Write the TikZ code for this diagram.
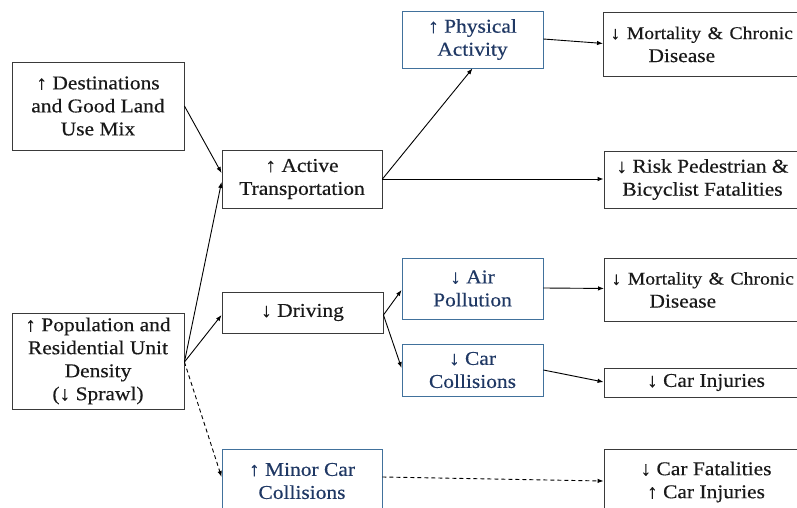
\documentclass[tikz,border=0pt]{standalone}
\usepackage{fontspec}
\setmainfont[FakeStretch=1.1,FakeBold=0.4]{Liberation Serif}
\usetikzlibrary{arrows.meta,calc}
\definecolor{bluebord}{HTML}{41719C}
\definecolor{bluetext}{HTML}{1F3864}
\definecolor{blackbord}{HTML}{3A3A3A}
\tikzset{
  box/.style={draw=blackbord, line width=0.9pt, rectangle, inner sep=0pt, align=center,
    font=\fontsize{19.5}{23}\selectfont, text=black!90},
  bbox/.style={box, draw=bluebord, text=bluetext},
  lbox/.style={box, anchor=north west, align=left, inner xsep=7pt},
  conn/.style={line width=0.9pt, -{Latex[length=6pt,width=4.5pt]}},
  dconn/.style={conn, dashed, dash pattern=on 4pt off 3pt},
}
\newcommand{\mortline}{{\fontsize{17.9}{23}\selectfont ↓ Mortality \& Chronic}}
\begin{document}
\begin{tikzpicture}[x=1pt,y=-1pt]
\useasboundingbox (0,0) rectangle (797,508);
\fill[white] (0,0) rectangle (797,508);
\clip (0,0) rectangle (797,508);

% left column
\node[box, minimum width=172pt, minimum height=88pt] (dest) at (98,106)
  {↑ Destinations\\and Good Land\\Use Mix};
\node[box, minimum width=172pt, minimum height=96pt] (pop) at (98,361)
  {↑ Population and\\Residential Unit\\Density\\(↓ Sprawl)};

% second column
\node[box, minimum width=160pt, minimum height=58pt] (active) at (302,179)
  {↑ Active\\Transportation};
\node[box, minimum width=161pt, minimum height=41pt] (driving) at (302.5,312.5)
  {↓ Driving};
\node[bbox, minimum width=160pt, minimum height=64pt] (minor) at (302,481)
  {↑ Minor Car\\Collisions};

% third column
\node[bbox, minimum width=141pt, minimum height=57pt] (phys) at (472.5,39.5)
  {↑ Physical\\Activity};
\node[bbox, minimum width=141pt, minimum height=61pt] (air) at (472.5,288.5)
  {↓ Air\\Pollution};
\node[bbox, minimum width=141pt, minimum height=52pt] (coll) at (472.5,370)
  {↓ Car\\Collisions};

% right column
\node[lbox, text width=200pt, minimum height=64pt] (mort1) at (603,12)
  {\mortline\\\hspace*{38pt}Disease};
\node[box, minimum width=197pt, minimum height=57pt] (risk) at (702.5,179.5)
  {↓ Risk Pedestrian \&\\Bicyclist Fatalities};
\node[lbox, text width=200pt, minimum height=63pt] (mort2) at (604,258)
  {\mortline\\\hspace*{38pt}Disease};
\node[box, minimum width=204pt, minimum height=29pt] (inj) at (706,382.5)
  {↓ Car Injuries};
\node[box, minimum width=204pt, minimum height=66pt] (fat) at (706,482)
  {↓ Car Fatalities\\↑ Car Injuries};

% connectors
\draw[conn] (dest.east) -- ($(active.west)+(0,-6)$);
\draw[conn] ($(pop.east)+(0,1)$) -- ($(active.west)+(0,3)$);
\draw[conn] ($(pop.east)+(0,1)$) -- ($(driving.west)+(0,2.5)$);
\draw[dconn] ($(pop.east)+(0,1)$) -- ($(minor.west)+(0,-4)$);
\draw[conn] (active.east) -- (phys.south);
\draw[conn] (active.east) -- (active.east -| risk.west);
\draw[conn] ($(phys.east)+(0,-0.5)$) -- ($(mort1.west)+(0,-1)$);
\draw[conn] ($(driving.east)+(0,2.5)$) -- ($(air.west)+(0,1.5)$);
\draw[conn] ($(driving.east)+(0,2.5)$) -- ($(coll.west)+(0,-2)$);
\draw[conn] ($(air.east)+(0,-0.5)$) -- ($(mort2.west)+(0,-1.5)$);
\draw[conn] (coll.east) -- ($(inj.west)+(0,-0.5)$);
\draw[dconn] ($(minor.east)+(0,-4)$) -- ($(fat.west)+(0,-1)$);
\end{tikzpicture}
\end{document}
